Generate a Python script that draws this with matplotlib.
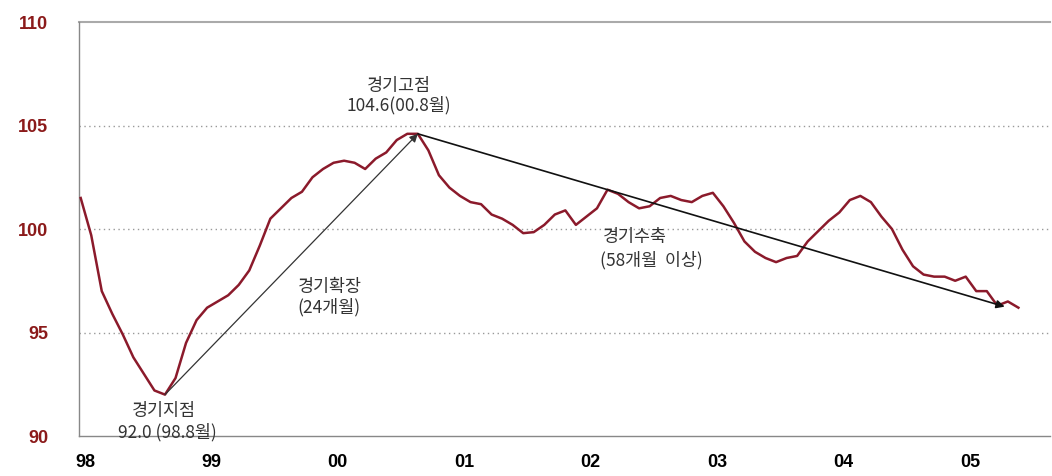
import numpy as np
import matplotlib.pyplot as plt

plt.rcParams['font.family'] = ['Noto Sans CJK KR', 'DejaVu Sans']

# monthly leading index, Dec 1997 (-1) .. May 2005 (88)
months = np.arange(-1, 89)
index_vals = [
    101.5,
    99.7, 97.0, 95.9, 94.9, 93.8, 93.0, 92.2, 92.0, 92.8, 94.5, 95.6, 96.2,
    96.5, 96.8, 97.3, 98.0, 99.2, 100.5, 101.0, 101.5, 101.8, 102.5, 102.9, 103.2,
    103.3, 103.2, 102.9, 103.4, 103.7, 104.3, 104.6, 104.6, 103.8, 102.6, 102.0, 101.6,
    101.3, 101.2, 100.7, 100.5, 100.2, 99.8, 99.85, 100.2, 100.7, 100.9, 100.2, 100.6,
    101.0, 101.9, 101.7, 101.3, 101.0, 101.1, 101.5, 101.6, 101.4, 101.3, 101.6, 101.75,
    101.1, 100.3, 99.4, 98.9, 98.6, 98.4, 98.6, 98.7, 99.4, 99.9, 100.4, 100.8,
    101.4, 101.6, 101.3, 100.6, 100.0, 99.0, 98.2, 97.8, 97.7, 97.7, 97.5, 97.7,
    97.0, 97.0, 96.3, 96.5, 96.2,
]
year_labels = ['98', '99', '00', '01', '02', '03', '04', '05']
y_ticks = [90, 95, 100, 105, 110]

trough = (7, 92.0)
peak = (31, 104.6)
latest = (86.7, 96.25)

fig = plt.figure(figsize=(10.52, 4.76), dpi=100)
ax = fig.add_axes([0.0751, 0.084, 0.923, 0.8697])

ax.plot(months, index_vals, color='#8b1a2b', lw=1.8, zorder=3)

# expansion / contraction arrows
ax.annotate('', xy=peak, xytext=trough,
            arrowprops=dict(arrowstyle='-|>', color='#333333', lw=0.9,
                            mutation_scale=12, shrinkA=0, shrinkB=0), zorder=4)
ax.annotate('', xy=latest, xytext=peak,
            arrowprops=dict(arrowstyle='-|>', color='#111111', lw=1.2,
                            mutation_scale=12, shrinkA=0, shrinkB=0), zorder=4)

txt = dict(fontsize=12.5, color='#333333')
ax.text(29.2, 106.9, '경기고점', ha='center', va='center', **txt)
ax.text(29.2, 106.0, '104.6(00.8월)', ha='center', va='center', **txt)
ax.text(19.6, 97.2, '경기확장', ha='left', va='center', **txt)
ax.text(19.6, 96.2, '(24개월)', ha='left', va='center', **txt)
ax.text(48.6, 99.6, '경기수축', ha='left', va='center', **txt)
ax.text(48.3, 98.5, '(58개월  이상)', ha='left', va='center', **txt)
ax.text(6.9, 91.2, '경기지점', ha='center', va='center', **txt)
ax.text(7.2, 90.2, '92.0 (98.8월)', ha='center', va='center', **txt)

ax.set_xlim(-1.16, 91.0)
ax.set_ylim(90, 110)

ax.set_yticks(y_ticks)
ax.set_yticklabels([str(v) for v in y_ticks], color='#8b1a1a',
                   fontweight='bold', fontsize=13, family='Liberation Sans')
ax.set_xticks([12 * n - 0.6 for n in range(len(year_labels))])
ax.set_xticklabels(year_labels, fontweight='bold', fontsize=13,
                   family='Liberation Sans')
ax.tick_params(axis='both', length=0)
ax.tick_params(axis='y', pad=22)
ax.tick_params(axis='x', pad=13)

for v in [95, 100, 105]:
    ax.axhline(v, color='#999999', lw=1.0, ls=(0, (1, 2.5)), zorder=1)
ax.axhline(110, color='#aaaaaa', lw=1.5, zorder=1, clip_on=False)

for side in ['right', 'top']:
    ax.spines[side].set_visible(False)
for side in ['left', 'bottom']:
    ax.spines[side].set_color('#888888')
    ax.spines[side].set_linewidth(1.0)

fig.savefig('out.png', dpi=100, facecolor='white')
